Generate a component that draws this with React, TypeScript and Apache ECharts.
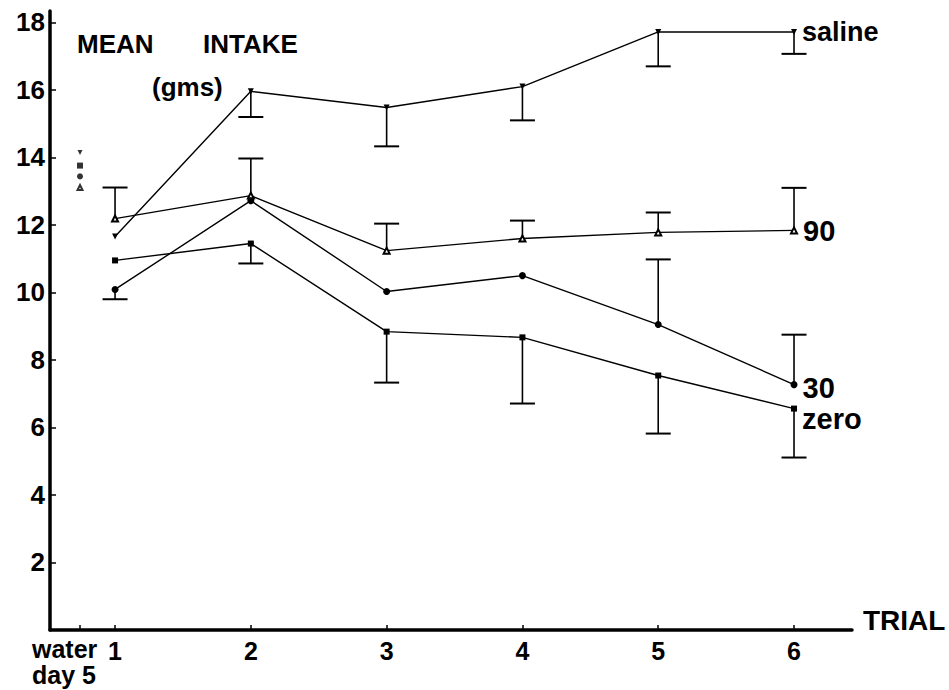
import React, { useEffect, useRef } from "react";
import * as echarts from "echarts";

// ---- data ----
const trials = [1, 2, 3, 4, 5, 6];
const waterDayX = 0.742; // position of the "water day 5" baseline point on the trial axis

const salineMeans = [11.66, 15.96, 15.48, 16.1, 17.72, 17.72];
const ninetyMeans = [12.19, 12.87, 11.24, 11.6, 11.78, 11.84];
const thirtyMeans = [10.09, 12.72, 10.03, 10.5, 9.05, 7.27];
const zeroMeans = [10.95, 11.45, 8.84, 8.67, 7.54, 6.56];

// one-sided error bar end values (null = no bar drawn)
const salineErr = [null, 15.2, 14.33, 15.1, 16.7, 17.07];
const ninetyErr = [13.11, 13.97, 12.04, 12.13, 12.37, 13.1];
const thirtyErr = [9.8, null, null, null, 10.98, 8.75];
const zeroErr = [null, 10.86, 7.33, 6.71, 5.82, 5.11];

// water day 5 baseline values
const waterSaline = 14.15;
const waterZero = 13.76;
const waterThirty = 13.44;
const waterNinety = 13.11;

const yTickValues = [2, 4, 6, 8, 10, 12, 14, 16, 18];
const xLabelValues = [1, 2, 3, 4, 5, 6];
const xTickValues = [waterDayX, 1, 2, 3, 4, 5, 6];

const seriesNames = ["saline", "90", "30", "zero"];

const FONT = "'Liberation Sans', Arial, Helvetica, sans-serif";

function lineData(means: number[], name: string, labelOffset: number[]) {
  return means.map((v, i) => {
    if (i === means.length - 1) {
      return {
        value: [trials[i], v],
        label: {
          show: true,
          formatter: name,
          position: "right",
          distance: 5,
          offset: labelOffset,
          color: "#000",
          fontFamily: FONT,
          fontWeight: "bold",
          fontSize: name === "saline" ? 27 : 29,
        },
      };
    }
    return { value: [trials[i], v] };
  });
}

function errData(means: number[], errs: (number | null)[]) {
  const out: number[][] = [];
  errs.forEach((e, i) => {
    if (e !== null) out.push([trials[i], means[i], e]);
  });
  return out;
}

const renderErr = (params: any, api: any) => {
  const x = api.value(0);
  const y = api.value(1);
  const e = api.value(2);
  const p = api.coord([x, y]);
  const q = api.coord([x, e]);
  return {
    type: "group",
    children: [
      {
        type: "line",
        shape: { x1: p[0], y1: p[1], x2: q[0], y2: q[1] },
        style: { stroke: "#000", lineWidth: 1.6 },
      },
      {
        type: "line",
        shape: { x1: q[0] - 12.5, y1: q[1], x2: q[0] + 12.5, y2: q[1] },
        style: { stroke: "#000", lineWidth: 2 },
      },
    ],
  };
};

function txt(text: string, left: number, top: number, size: number) {
  return {
    type: "text",
    left,
    top,
    style: {
      text,
      fill: "#000",
      fontFamily: FONT,
      fontWeight: "bold",
      fontSize: size,
    },
  };
}

export default function App() {
  const ref = useRef<HTMLDivElement>(null);

  useEffect(() => {
    document.body.style.margin = "0";
    const chart = echarts.init(ref.current!, null, { renderer: "svg" });

    const lineCommon = {
      type: "line",
      lineStyle: { color: "#000", width: 1.4 },
      itemStyle: { color: "#000" },
      z: 3,
    };

    const option: any = {
      animation: false,
      backgroundColor: "#fff",
      grid: { left: 50, right: 97, top: 11, bottom: 60, containLabel: false },
      xAxis: {
        type: "value",
        min: 0.521,
        max: 6.427,
        axisLine: { show: true, lineStyle: { color: "#000", width: 3.5 } },
        axisTick: {
          show: true,
          inside: true,
          length: 5,
          customValues: xTickValues,
          lineStyle: { color: "#000", width: 1.5 },
        },
        axisLabel: {
          customValues: xLabelValues,
          color: "#000",
          fontFamily: FONT,
          fontWeight: "bold",
          fontSize: 25,
          margin: 8,
        },
        splitLine: { show: false },
      },
      yAxis: {
        type: "value",
        min: 0,
        max: 18.34,
        axisLine: { show: true, lineStyle: { color: "#000", width: 3.5 } },
        axisTick: {
          show: true,
          inside: true,
          length: 6,
          customValues: yTickValues,
          lineStyle: { color: "#000", width: 1.5 },
        },
        axisLabel: {
          customValues: yTickValues,
          color: "#000",
          fontFamily: FONT,
          fontWeight: "bold",
          fontSize: 26,
          margin: 5,
        },
        splitLine: { show: false },
      },
      graphic: [
        txt("MEAN", 77, 31, 26),
        txt("INTAKE", 203, 31, 26),
        txt("(gms)", 152, 74, 26),
        txt("TRIAL", 863, 606, 28),
        txt("water", 32, 636, 25),
        txt("day 5", 32, 662, 25),
      ],
      series: [
        {
          ...lineCommon,
          name: seriesNames[0],
          symbol: "triangle",
          symbolRotate: 180,
          symbolSize: 6,
          data: lineData(salineMeans, seriesNames[0], [0, 0]),
        },
        {
          ...lineCommon,
          name: seriesNames[1],
          symbol: "emptyTriangle",
          symbolSize: 6,
          itemStyle: { color: "#000", borderWidth: 1.2 },
          data: lineData(ninetyMeans, seriesNames[1], [0, 1]),
        },
        {
          ...lineCommon,
          name: seriesNames[2],
          symbol: "circle",
          symbolSize: 7,
          data: lineData(thirtyMeans, seriesNames[2], [0, 3]),
        },
        {
          ...lineCommon,
          name: seriesNames[3],
          symbol: "rect",
          symbolSize: 6,
          data: lineData(zeroMeans, seriesNames[3], [0, 10]),
        },
        {
          type: "custom",
          name: "saline err",
          renderItem: renderErr,
          data: errData(salineMeans, salineErr),
          z: 2,
        },
        {
          type: "custom",
          name: "90 err",
          renderItem: renderErr,
          data: errData(ninetyMeans, ninetyErr),
          z: 2,
        },
        {
          type: "custom",
          name: "30 err",
          renderItem: renderErr,
          data: errData(thirtyMeans, thirtyErr),
          z: 2,
        },
        {
          type: "custom",
          name: "zero err",
          renderItem: renderErr,
          data: errData(zeroMeans, zeroErr),
          z: 2,
        },
        {
          type: "scatter",
          name: "water saline",
          symbol: "triangle",
          symbolRotate: 180,
          symbolSize: 5,
          itemStyle: { color: "#000" },
          data: [[waterDayX, waterSaline]],
        },
        {
          type: "scatter",
          name: "water zero",
          symbol: "rect",
          symbolSize: 6,
          itemStyle: { color: "#000" },
          data: [[waterDayX, waterZero]],
        },
        {
          type: "scatter",
          name: "water 30",
          symbol: "circle",
          symbolSize: 6,
          itemStyle: { color: "#000" },
          data: [[waterDayX, waterThirty]],
        },
        {
          type: "scatter",
          name: "water 90",
          symbol: "emptyTriangle",
          symbolSize: 5,
          itemStyle: { color: "#000", borderWidth: 1.2 },
          data: [[waterDayX, waterNinety]],
        },
      ],
    };

    chart.setOption(option);
    return () => chart.dispose();
  }, []);

  return <div ref={ref} style={{ width: 949, height: 690 }} />;
}
